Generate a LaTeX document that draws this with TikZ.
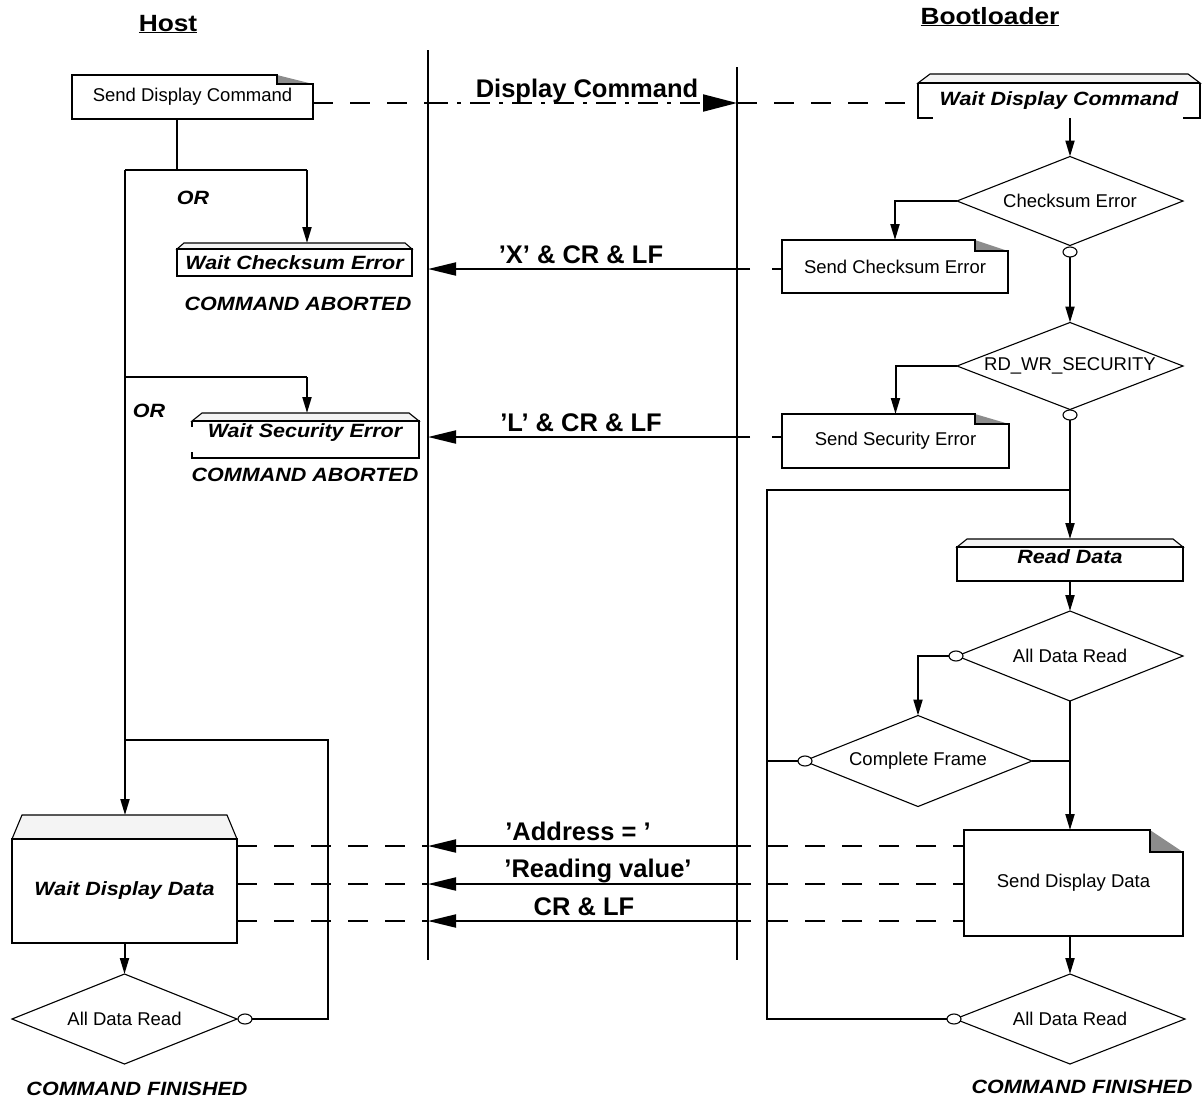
\documentclass[tikz,border=0pt]{standalone}
\usepackage{fontspec}
\setmainfont{Liberation Sans}
\newfontfamily\stretchsans[FakeStretch=1.12]{Liberation Sans}
\usetikzlibrary{arrows.meta,shapes.geometric}
\definecolor{foldgray}{HTML}{8C8C8C}
\definecolor{trapfill}{HTML}{F4F4F4}
\newcommand\regf{\fontsize{18.5}{21}\selectfont}
\newcommand\bisz{\stretchsans\bfseries\itshape\fontsize{19.2}{21}\selectfont}
\newcommand\msgf{\bfseries\fontsize{25.5}{28}\selectfont}
\newcommand\ttlf{\stretchsans\bfseries\fontsize{23.5}{26}\selectfont}
\tikzset{
  lane/.style={line width=1.8pt},
  conn/.style={line width=2pt},
  arr/.style={conn,-{Triangle[length=16pt,width=9pt]}},
  msgarr/.style={conn,-{Triangle[length=28pt,width=13pt]}},
  bigarr/.style={-{Triangle[length=34pt,width=17pt]}},
  dsh/.style={line width=2pt,dash pattern=on 20pt off 17pt},
  dashdot/.style={line width=2pt,dash pattern=on 20pt off 9pt on 4pt off 9pt},
  boxn/.style={rectangle,inner sep=0pt,outer sep=0pt,font=\regf},
  bibox/.style={boxn,font=\bisz},
  dia/.style={diamond,aspect=2.5,draw,line width=1.1pt,inner sep=0pt,outer sep=0pt,font=\regf},
  ring/.style={ellipse,draw,line width=1.1pt,fill=white,inner sep=0pt,outer sep=0pt,minimum width=14pt,minimum height=10pt},
  boxline/.style={line width=2pt,line join=miter},
  lbl/.style={font=\msgf,inner sep=0pt,anchor=base},
  note/.style={font=\bisz,inner sep=0pt},
}
\newcommand\dogear[3]{%
  \fill[foldgray] ([xshift=-#2]#1.north east) -- ([yshift=-#3]#1.north east) -- ([xshift=-#2,yshift=-#3]#1.north east) -- cycle;
  \draw[boxline] ([xshift=-#2]#1.north east) -- (#1.north west) -- (#1.south west) -- (#1.south east) -- ([yshift=-#3]#1.north east) -- ([xshift=-#2,yshift=-#3]#1.north east) -- cycle;
}
\newcommand\waittop[3]{%
  \filldraw[line width=1.1pt,fill=trapfill] (#1.north west) -- ([xshift=#2,yshift=#3]#1.north west) -- ([xshift=-#2,yshift=#3]#1.north east) -- (#1.north east) -- cycle;
  \coordinate (#1-top) at ([yshift=#3]#1.north);
}
\begin{document}
\begin{tikzpicture}[x=1pt,y=-1pt]
\useasboundingbox (0,0) rectangle (1203,1101);

% titles
\node[font=\ttlf,inner sep=0pt,anchor=base] (host) at (168,31) {\underline{Host}};
\node[font=\ttlf,inner sep=0pt,anchor=base] (boot) at (990,24) {\underline{Bootloader}};

% lifelines
\coordinate (hl-t) at (428,50); \coordinate (hl-b) at (428,960);
\coordinate (bl-t) at (737,67); \coordinate (bl-b) at (737,960);
\draw[lane] (hl-t) -- (hl-b);
\draw[lane] (bl-t) -- (bl-b);

% ---------- host boxes ----------
\node[boxn,minimum width=241pt,minimum height=44pt] (sdc) at (192.5,97) {Send Display Command};
\dogear{sdc}{36pt}{9pt}

\node[bibox,minimum width=235pt,minimum height=27pt] (wce) at (294.5,262.5) {Wait Checksum Error};
\waittop{wce}{7pt}{6pt}
\draw[boxline] (wce.north west) rectangle (wce.south east);

\node[bibox,minimum width=227pt,minimum height=37pt] (wse) at (305.5,439.5) {};
\node[note] (wse-t) at (305,433) {Wait Security Error};
\waittop{wse}{10pt}{8pt}
\draw[boxline] (wse.north west) -- ++(0,6);
\draw[boxline] (wse.north west) -- (wse.north east) -- (wse.south east) -- (wse.south west) -- ++(0,-6);

\node[bibox,minimum width=225pt,minimum height=104pt] (wdd) at (124.5,891) {Wait Display Data};
\waittop{wdd}{10pt}{24pt}
\draw[boxline] (wdd.north west) rectangle (wdd.south east);

\node[dia,minimum width=225pt,minimum height=90pt] (adrh) at (124.5,1019) {All Data Read};
\node[ring] (adrh-o) at (245,1019) {};

\node[note] (or1) at (193,198) {OR};
\node[note] (or2) at (149,411) {OR};
\node[note] (ab1) at (298,304) {COMMAND ABORTED};
\node[note] (ab2) at (305,475) {COMMAND ABORTED};
\node[note] (fin1) at (137,1089) {COMMAND FINISHED};

% ---------- bootloader boxes ----------
\node[bibox,minimum width=282pt,minimum height=35pt] (wdc) at (1059,100.5) {Wait Display Command};
\waittop{wdc}{12pt}{9pt}
\draw[boxline] (wdc.north west) -- (wdc.north east);
\draw[boxline] (wdc.north west) -- (wdc.south west) -- ++(15,0);
\draw[boxline] (wdc.north east) -- (wdc.south east) -- ++(-17,0);

\node[dia,minimum width=226pt,minimum height=89pt] (ce) at (1070,201) {Checksum Error};
\node[ring] (ce-o) at (1070,252) {};

\node[boxn,minimum width=226pt,minimum height=53pt] (sce) at (895,266.5) {Send Checksum Error};
\dogear{sce}{33pt}{11pt}

\node[dia,minimum width=226pt,minimum height=87pt] (rdw) at (1070,366) {RD\textunderscore WR\textunderscore SECURITY};
\node[ring] (rdw-o) at (1070,415) {};

\node[boxn,minimum width=227pt,minimum height=54pt] (ssec) at (895.5,441) {Send Security Error};
\dogear{ssec}{34pt}{10pt}

\node[bibox,minimum width=226pt,minimum height=34pt] (rd) at (1070,564) {};
\node[note] (rd-t) at (1070,557) {Read Data};
\waittop{rd}{10pt}{8pt}
\draw[boxline] (rd.north west) rectangle (rd.south east);

\node[dia,minimum width=226pt,minimum height=90pt] (adr1) at (1070,656) {All Data Read};
\node[ring] (adr1-o) at (956,656) {};

\node[dia,minimum width=228pt,minimum height=91pt] (cf) at (918,761) {Complete Frame};
\node[ring] (cf-o) at (805,761) {};

\node[boxn,minimum width=219pt,minimum height=106pt] (sdd) at (1073.5,883) {Send Display Data};
\dogear{sdd}{33pt}{22pt}

\node[dia,minimum width=230pt,minimum height=90pt] (adr2) at (1070,1019) {All Data Read};
\node[ring] (adr2-o) at (954,1019) {};

\node[note] (fin2) at (1082,1087) {COMMAND FINISHED};

% ---------- host connectors ----------
\coordinate (sdc-out) at ([xshift=-15.5pt]sdc.south);
\coordinate (h1) at (125,170); \coordinate (h1r) at (307,170);
\coordinate (h2) at (125,377); \coordinate (h2r) at (307,377);
\coordinate (h3) at (125,740); \coordinate (h3r) at (328,740);
\draw[conn] (sdc-out) -- (sdc-out |- h1);
\draw[conn] (h1) -- (h1r);
\draw[arr] (h1r) -- (h1r |- wce-top);
\draw[arr] (h1) -- (h1 |- wdd-top);
\draw[conn] (h2) -- (h2r);
\draw[arr] (h2r) -- (h2r |- wse-top);
\draw[conn] (h3) -- (h3r) -- (h3r |- adrh-o) -- (adrh-o.east);
\draw[arr] (wdd.south) -- (adrh.north);

% ---------- bootloader connectors ----------
\coordinate (wdc-out) at (ce.north |- wdc.south);
\draw[arr] (wdc-out) -- (ce.north);
\draw[arr] (ce.west) -| (sce.north);
\draw[arr] (ce-o.south) -- (rdw.north);
\draw[arr] (rdw.west) -| (ssec.north);
\coordinate (b1) at (1070,490); \coordinate (b1l) at (767,490);
\draw[arr] (rdw-o.south) -- (rd-top);
\draw[conn] (b1) -- (b1l) -- (b1l |- adr2-o) -- (adr2-o.west);
\draw[arr] (rd.south) -- (adr1.north);
\draw[arr] (adr1-o.west) -| (cf.north);
\draw[conn] (cf-o.west) -- (cf-o.west -| b1l);
\coordinate (cfj) at (adr1.south |- cf.east);
\draw[conn] (cf.east) -- (cfj);
\draw[arr] (adr1.south) -- (adr1.south |- sdd.north);
\coordinate (sdd-out) at (adr2.north |- sdd.south);
\draw[arr] (sdd-out) -- (adr2.north);

% ---------- messages ----------
\coordinate (m0h) at (428,103); \coordinate (m0b) at (737,103);
\draw[dsh] (m0h -| sdc.east) -- (m0h);
\draw[dashdot,bigarr] (m0h) -- (m0b);
\draw[dsh] (m0b) -- (m0b -| wdc.west);
\node[lbl] (l0) at (587,97) {Display Command};

\coordinate (m1h) at (428,269); \coordinate (m1b) at (737,269);
\draw[msgarr] (m1b) -- (m1h);
\draw[conn,dash pattern=on 10pt off 22pt on 14pt] (m1b -| sce.west) -- (m1b);
\node[lbl] (l1) at (581,263) {’X’ \& CR \& LF};

\coordinate (m2h) at (428,437); \coordinate (m2b) at (737,437);
\draw[msgarr] (m2b) -- (m2h);
\draw[conn,dash pattern=on 10pt off 22pt on 14pt] (m2b -| ssec.west) -- (m2b);
\node[lbl] (l2) at (581,431) {’L’ \& CR \& LF};

\coordinate (m3h) at (428,846); \coordinate (m3b) at (737,846);
\coordinate (m4h) at (428,884); \coordinate (m4b) at (737,884);
\coordinate (m5h) at (428,921); \coordinate (m5b) at (737,921);
\foreach \m in {m3,m4,m5}{
  \draw[dsh] (\m h -| wdd.east) -- (\m h);
  \draw[msgarr] (\m b) -- (\m h);
  \draw[dsh,dash phase=9pt] (\m b -| sdd.west) -- (\m b);
}
\node[lbl] (l3) at (578,840) {’Address = ’};
\node[lbl] (l4) at (598,877) {’Reading value’};
\node[lbl] (l5) at (584,915) {CR \& LF};
\end{tikzpicture}
\end{document}
